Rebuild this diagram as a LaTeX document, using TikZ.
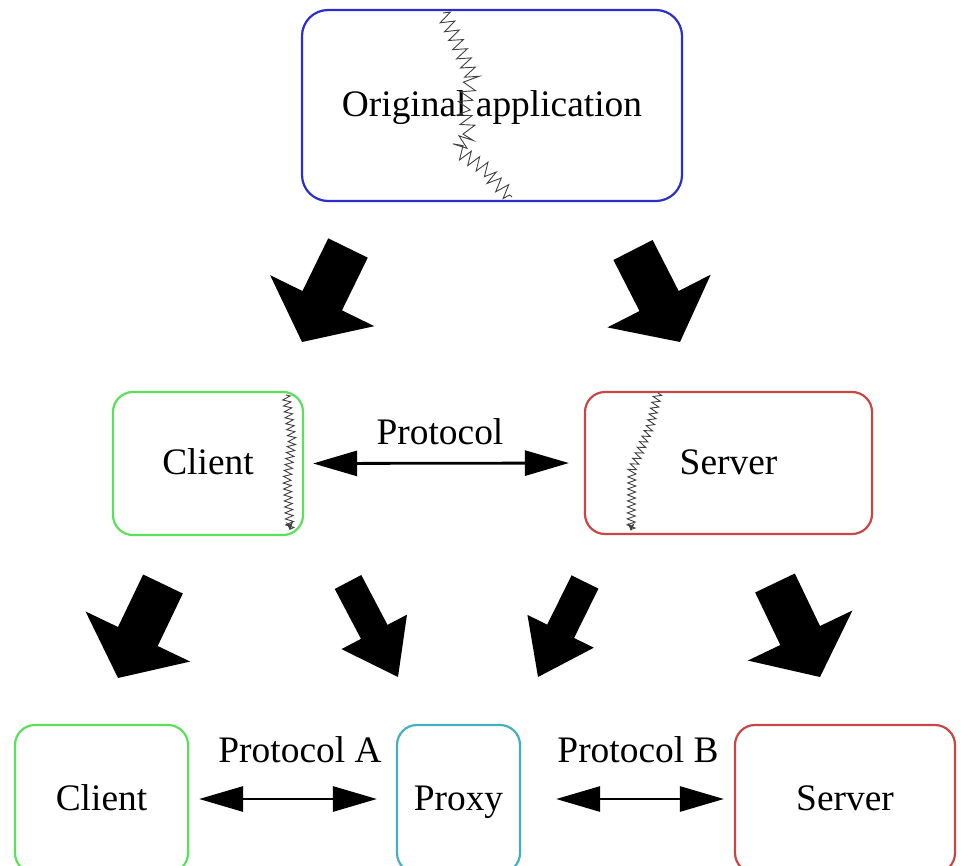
\documentclass[tikz,border=0pt]{standalone}
\usepackage{fontspec}
\setmainfont{Liberation Serif}
\usetikzlibrary{arrows.meta, calc, decorations.pathmorphing}

\definecolor{appblue}{RGB}{45,45,205}
\definecolor{cligreen}{RGB}{90,225,90}
\definecolor{srvred}{RGB}{200,70,70}
\definecolor{prxcyan}{RGB}{70,175,190}

% fat block arrow: {start}{tip}{half shaft}{half head}{head length}
\newcommand{\fatarrow}[5]{%
  \coordinate (fa-s) at #1;
  \coordinate (fa-t) at #2;
  \coordinate (fa-h) at ($(fa-t)!#5!(fa-s)$);
  \fill ($(fa-s)!#3!90:(fa-t)$) -- ($(fa-h)!#3!90:(fa-t)$)
    -- ($(fa-h)!#4!90:(fa-t)$) -- (fa-t) -- ($(fa-h)!#4!-90:(fa-t)$)
    -- ($(fa-h)!#3!-90:(fa-t)$) -- ($(fa-s)!#3!-90:(fa-t)$) -- cycle;
}

\begin{document}
\begin{tikzpicture}[x=0.5pt, y=-0.5pt,
  partbox/.style={draw, rounded corners=10pt, line width=1.1pt, inner sep=0pt,
    text height=2.8ex, text depth=0.3ex, font=\fontsize{18.7}{22}\selectfont},
  lbl/.style={font=\fontsize{18.7}{22}\selectfont},
  proto/.style={line width=1.4pt, {Triangle[length=22pt,width=12.5pt]}-{Triangle[length=22pt,width=12.5pt]}},
  cut/.style={draw=black!75, line width=0.45pt, decorate,
    decoration={zigzag, segment length=3pt, amplitude=2pt}}]
  \useasboundingbox (0,0) rectangle (968,866);

  % the application and its two halves
  \node[partbox, draw=appblue, rounded corners=13pt, minimum width=190pt, minimum height=95.5pt]
    (orig) at (492,105.5) {Original application};
  \node[partbox, draw=cligreen, minimum width=95pt, minimum height=71.5pt]
    (cli) at (208,463.5) {Client};
  \node[partbox, draw=srvred, minimum width=143.5pt, minimum height=71pt]
    (srv) at (728.5,463) {Server};

  % bottom row with proxy
  \node[partbox, draw=cligreen, minimum width=86.5pt, minimum height=74pt]
    (cli2) at (101.5,799) {Client};
  \node[partbox, draw=prxcyan, minimum width=61.5pt, minimum height=74pt]
    (prx) at (458.5,799) {Proxy};
  \node[partbox, draw=srvred, minimum width=110pt, minimum height=74pt]
    (srv2) at (845,799) {Server};

  % protocols
  \draw[proto, shorten <=4.5pt, shorten >=7.5pt] (cli.east) -- (srv.west);
  \node[lbl] (p) at (440,432) {Protocol};
  \draw[proto, shorten <=5pt, shorten >=9.5pt] (cli2.east) -- (prx.west);
  \node[lbl] (pa) at (300,750) {Protocol A};
  \draw[proto, shorten <=17.5pt, shorten >=5pt] (prx.east) -- (srv2.west);
  \node[lbl] (pb) at (638,750) {Protocol B};

  % cut lines
  \draw[cut, decoration={segment length=5pt, amplitude=3.5pt}] (443,13) -- (453,33) -- (472,77)
    -- (463,110) -- (470,133) -- (457,150) -- (487,170) -- (493,180) -- (512,197);
  \draw[cut, -{Stealth[length=4pt,width=3.5pt]}] (286,395) -- (292,440) -- (287,480) -- (290,530);
  \draw[cut, -{Stealth[length=4pt,width=3.5pt]}] (658,393) -- (650,427) -- (632,470) -- (631,531);

  % splitting arrows
  \fatarrow{(348,248)}{(302,342)}{11pt}{29pt}{23pt}
  \fatarrow{(633,250)}{(680,342)}{11pt}{29pt}{23pt}
  \fatarrow{(163,584)}{(118,678)}{11pt}{29pt}{23pt}
  \fatarrow{(348,582)}{(398,677)}{7.5pt}{18.5pt}{25.5pt}
  \fatarrow{(585,582)}{(538,677)}{7.5pt}{18.5pt}{25.5pt}
  \fatarrow{(775,583)}{(820,677)}{11pt}{29pt}{23pt}
\end{tikzpicture}
\end{document}
